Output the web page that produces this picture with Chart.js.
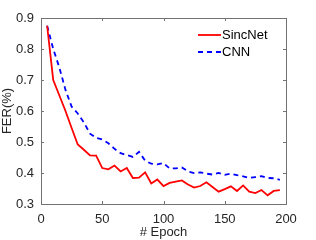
<!DOCTYPE html>
<html>
<head>
<meta charset="utf-8">
<script src="https://cdn.jsdelivr.net/npm/chart.js@4/dist/chart.umd.min.js"></script>
<style>
  html, body { margin: 0; padding: 0; background: #fff; }
  #wrap { width: 316px; height: 240px; }
</style>
</head>
<body>
<div id="wrap"><canvas id="ferChart" width="316" height="240"></canvas></div>
<script>
const epochs = [5, 10, 15, 20, 25, 30, 35, 40, 45, 50, 55, 60, 65, 70, 75, 80, 85, 90, 95, 100,
  105, 110, 115, 120, 125, 130, 135, 140, 145, 150, 155, 160, 165, 170, 175, 180, 185, 190, 195];

const sincnetFer = [0.875, 0.70, 0.65, 0.60, 0.545, 0.492, 0.475, 0.457, 0.456, 0.416, 0.412, 0.424, 0.405, 0.416, 0.384, 0.385, 0.402, 0.366, 0.379, 0.358,
  0.368, 0.372, 0.376, 0.363, 0.353, 0.358, 0.37, 0.355, 0.34, 0.348, 0.357, 0.342, 0.36, 0.34, 0.335, 0.345, 0.328, 0.342, 0.345];

const cnnFer = [0.875, 0.80, 0.74, 0.668, 0.614, 0.592, 0.563, 0.527, 0.513, 0.508, 0.496, 0.478, 0.464, 0.458, 0.452, 0.468, 0.44, 0.43, 0.428, 0.432,
  0.415, 0.415, 0.418, 0.405, 0.40, 0.402, 0.398, 0.395, 0.40, 0.394, 0.398, 0.393, 0.389, 0.384, 0.387, 0.39, 0.384, 0.383, 0.378];

const xTicks = [0, 50, 100, 150, 200];
const yTicks = [0.3, 0.4, 0.5, 0.6, 0.7, 0.8, 0.9];

const FONT = "'Liberation Sans', Arial, Helvetica, sans-serif";
const AXIS_COLOR = "#737373";
const TEXT_COLOR = "#262626";

function toPoints(xs, ys) {
  return xs.map((x, i) => ({ x: x, y: ys[i] }));
}

// box around the plot area, inward ticks on all four sides, legend top right
const matlabAxes = {
  id: "matlabAxes",
  afterDraw(chart) {
    const { ctx, chartArea: a, scales } = chart;
    ctx.save();
    ctx.strokeStyle = AXIS_COLOR;
    ctx.lineWidth = 1;
    ctx.strokeRect(a.left + 0.5, a.top + 0.5, a.right - a.left, a.bottom - a.top);
    ctx.beginPath();
    xTicks.forEach((v) => {
      const px = Math.round(scales.x.getPixelForValue(v)) + 0.5;
      ctx.moveTo(px, a.bottom); ctx.lineTo(px, a.bottom - 3);
      ctx.moveTo(px, a.top); ctx.lineTo(px, a.top + 3);
    });
    yTicks.forEach((v) => {
      const py = Math.round(scales.y.getPixelForValue(v)) + 0.5;
      ctx.moveTo(a.left, py); ctx.lineTo(a.left + 3, py);
      ctx.moveTo(a.right, py); ctx.lineTo(a.right - 3, py);
    });
    ctx.stroke();

    // legend
    ctx.font = "13px " + FONT;
    ctx.textBaseline = "middle";
    ctx.fillStyle = "#000";
    chart.data.datasets.forEach((ds, i) => {
      const y = 35 + i * 17;
      ctx.beginPath();
      ctx.strokeStyle = ds.borderColor;
      ctx.lineWidth = ds.borderWidth;
      ctx.setLineDash(ds.borderDash || []);
      ctx.moveTo(198, y); ctx.lineTo(221, y);
      ctx.stroke();
      ctx.setLineDash([]);
      ctx.fillText(ds.label, 222, y + 0.5);
    });
    ctx.restore();
  },
};

new Chart(document.getElementById("ferChart"), {
  type: "line",
  data: {
    datasets: [
      {
        label: "SincNet",
        data: toPoints(epochs, sincnetFer),
        borderColor: "#ff0000",
        borderWidth: 1.8,
        pointRadius: 0,
        tension: 0,
      },
      {
        label: "CNN",
        data: toPoints(epochs, cnnFer),
        borderColor: "#0000ff",
        borderWidth: 1.8,
        borderDash: [5, 4],
        pointRadius: 0,
        tension: 0,
      },
    ],
  },
  options: {
    responsive: false,
    animation: false,
    layout: { padding: { left: 0, right: 30, top: 18, bottom: 0 } },
    plugins: { legend: { display: false }, tooltip: { enabled: false } },
    scales: {
      x: {
        type: "linear",
        min: 0,
        max: 200,
        afterBuildTicks: (s) => { s.ticks = xTicks.map((v) => ({ value: v })); },
        afterFit: (s) => { s.height = 36; },
        grid: { display: false, drawTicks: false },
        border: { display: false },
        ticks: { color: TEXT_COLOR, font: { family: FONT, size: 13 }, padding: 8, maxRotation: 0 },
        title: { display: true, text: "# Epoch", color: TEXT_COLOR, font: { family: FONT, size: 13 }, padding: { top: 0, bottom: 0 } },
      },
      y: {
        type: "linear",
        min: 0.3,
        max: 0.9,
        afterBuildTicks: (s) => { s.ticks = yTicks.map((v) => ({ value: v })); },
        afterFit: (s) => { s.width = 41; },
        grid: { display: false, drawTicks: false },
        border: { display: false },
        ticks: { color: TEXT_COLOR, font: { family: FONT, size: 13 }, padding: 7, callback: (v) => v.toFixed(1) },
        title: { display: true, text: "FER(%)", color: TEXT_COLOR, font: { family: FONT, size: 13 }, padding: { top: 0, bottom: 0 } },
      },
    },
  },
  plugins: [matlabAxes],
});
</script>
</body>
</html>
